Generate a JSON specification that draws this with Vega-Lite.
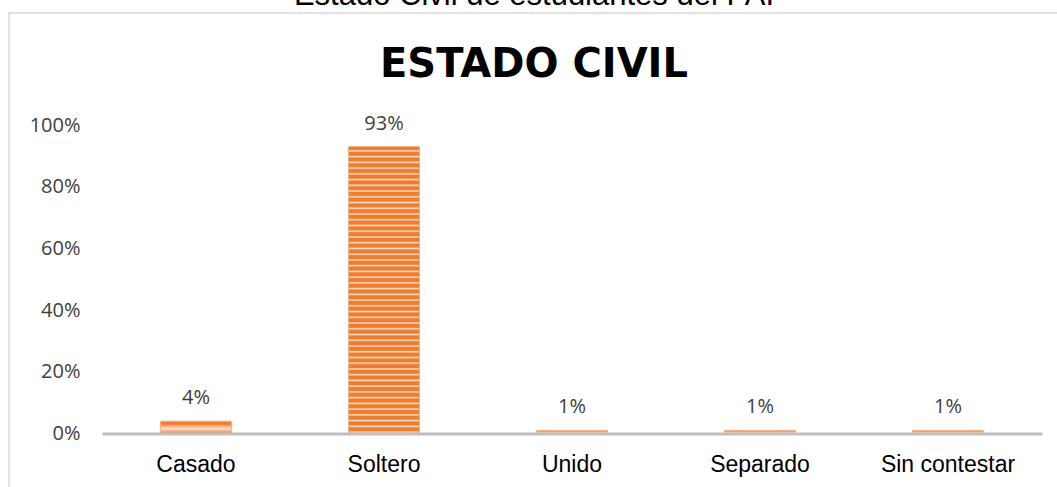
{
  "$schema": "https://vega.github.io/schema/vega-lite/v6.json",
  "width": 1050,
  "height": 477,
  "autosize": {"type": "none"},
  "padding": {"left": 9, "top": 13, "right": 0, "bottom": 0},
  "background": "white",
  "config": {"view": {"stroke": "#D9D9D9", "strokeWidth": 1.5}},
  "title": {
    "text": "Estado Civil de estudiantes del PAI",
    "subtitle": "ESTADO CIVIL",
    "anchor": "middle",
    "frame": "group",
    "font": "Liberation Sans",
    "fontSize": 31,
    "fontWeight": "normal",
    "color": "#000000",
    "subtitleFont": "DejaVu Sans",
    "subtitleFontSize": 40,
    "subtitleFontWeight": "bold",
    "subtitleColor": "#000000",
    "subtitlePadding": 33,
    "offset": -73
  },
  "data": {
    "values": [
      {"estado": "Casado", "pct": 0.04},
      {"estado": "Soltero", "pct": 0.93},
      {"estado": "Unido", "pct": 0.01},
      {"estado": "Separado", "pct": 0.01},
      {"estado": "Sin contestar", "pct": 0.01}
    ]
  },
  "encoding": {
    "x": {
      "field": "estado",
      "type": "nominal",
      "sort": null,
      "scale": {"range": [93, 1033], "paddingInner": 0.622, "paddingOuter": 0.311},
      "axis": {
        "title": null,
        "orient": "bottom",
        "offset": -56.5,
        "domain": true,
        "domainColor": "#BFBFBF",
        "domainWidth": 3,
        "ticks": false,
        "tickSize": 0,
        "labelPadding": 37.5,
        "labelBaseline": "alphabetic",
        "labelAngle": 0,
        "labelFont": "Liberation Sans",
        "labelFontSize": 23,
        "labelColor": "#000000",
        "zindex": 1
      }
    },
    "y": {
      "field": "pct",
      "type": "quantitative",
      "scale": {"domain": [0, 1], "range": [420.5, 112], "nice": false},
      "axis": {
        "title": null,
        "orient": "left",
        "offset": -75,
        "domain": false,
        "ticks": false,
        "tickSize": 0,
        "grid": false,
        "labelPadding": 4,
        "values": [0, 0.2, 0.4, 0.6, 0.8, 1],
        "format": ".0%",
        "labelFont": "Open Sans",
        "labelFontSize": 20,
        "labelColor": "#404040"
      }
    }
  },
  "layer": [
    {
      "mark": {
        "type": "bar",
        "stroke": "#F4B183",
        "strokeWidth": 1,
        "color": {
          "gradient": "linear",
          "x1": 0, "y1": 0, "x2": 0, "y2": 1,
          "stops": [
            {"offset": 0, "color": "#ED7D31"}, {"offset": 0.01, "color": "#ED7D31"}, {"offset": 0.015, "color": "#FBE0CC"},
            {"offset": 0.02, "color": "#ED7D31"}, {"offset": 0.03, "color": "#ED7D31"}, {"offset": 0.035, "color": "#FBE0CC"},
            {"offset": 0.04, "color": "#ED7D31"}, {"offset": 0.05, "color": "#ED7D31"}, {"offset": 0.055, "color": "#FBE0CC"},
            {"offset": 0.06, "color": "#ED7D31"}, {"offset": 0.07, "color": "#ED7D31"}, {"offset": 0.075, "color": "#FBE0CC"},
            {"offset": 0.08, "color": "#ED7D31"}, {"offset": 0.09, "color": "#ED7D31"}, {"offset": 0.095, "color": "#FBE0CC"},
            {"offset": 0.10, "color": "#ED7D31"}, {"offset": 0.11, "color": "#ED7D31"}, {"offset": 0.115, "color": "#FBE0CC"},
            {"offset": 0.12, "color": "#ED7D31"}, {"offset": 0.13, "color": "#ED7D31"}, {"offset": 0.135, "color": "#FBE0CC"},
            {"offset": 0.14, "color": "#ED7D31"}, {"offset": 0.15, "color": "#ED7D31"}, {"offset": 0.155, "color": "#FBE0CC"},
            {"offset": 0.16, "color": "#ED7D31"}, {"offset": 0.17, "color": "#ED7D31"}, {"offset": 0.175, "color": "#FBE0CC"},
            {"offset": 0.18, "color": "#ED7D31"}, {"offset": 0.19, "color": "#ED7D31"}, {"offset": 0.195, "color": "#FBE0CC"},
            {"offset": 0.20, "color": "#ED7D31"}, {"offset": 0.21, "color": "#ED7D31"}, {"offset": 0.215, "color": "#FBE0CC"},
            {"offset": 0.22, "color": "#ED7D31"}, {"offset": 0.23, "color": "#ED7D31"}, {"offset": 0.235, "color": "#FBE0CC"},
            {"offset": 0.24, "color": "#ED7D31"}, {"offset": 0.25, "color": "#ED7D31"}, {"offset": 0.255, "color": "#FBE0CC"},
            {"offset": 0.26, "color": "#ED7D31"}, {"offset": 0.27, "color": "#ED7D31"}, {"offset": 0.275, "color": "#FBE0CC"},
            {"offset": 0.28, "color": "#ED7D31"}, {"offset": 0.29, "color": "#ED7D31"}, {"offset": 0.295, "color": "#FBE0CC"},
            {"offset": 0.30, "color": "#ED7D31"}, {"offset": 0.31, "color": "#ED7D31"}, {"offset": 0.315, "color": "#FBE0CC"},
            {"offset": 0.32, "color": "#ED7D31"}, {"offset": 0.33, "color": "#ED7D31"}, {"offset": 0.335, "color": "#FBE0CC"},
            {"offset": 0.34, "color": "#ED7D31"}, {"offset": 0.35, "color": "#ED7D31"}, {"offset": 0.355, "color": "#FBE0CC"},
            {"offset": 0.36, "color": "#ED7D31"}, {"offset": 0.37, "color": "#ED7D31"}, {"offset": 0.375, "color": "#FBE0CC"},
            {"offset": 0.38, "color": "#ED7D31"}, {"offset": 0.39, "color": "#ED7D31"}, {"offset": 0.395, "color": "#FBE0CC"},
            {"offset": 0.40, "color": "#ED7D31"}, {"offset": 0.41, "color": "#ED7D31"}, {"offset": 0.415, "color": "#FBE0CC"},
            {"offset": 0.42, "color": "#ED7D31"}, {"offset": 0.43, "color": "#ED7D31"}, {"offset": 0.435, "color": "#FBE0CC"},
            {"offset": 0.44, "color": "#ED7D31"}, {"offset": 0.45, "color": "#ED7D31"}, {"offset": 0.455, "color": "#FBE0CC"},
            {"offset": 0.46, "color": "#ED7D31"}, {"offset": 0.47, "color": "#ED7D31"}, {"offset": 0.475, "color": "#FBE0CC"},
            {"offset": 0.48, "color": "#ED7D31"}, {"offset": 0.49, "color": "#ED7D31"}, {"offset": 0.495, "color": "#FBE0CC"},
            {"offset": 0.50, "color": "#ED7D31"}, {"offset": 0.51, "color": "#ED7D31"}, {"offset": 0.515, "color": "#FBE0CC"},
            {"offset": 0.52, "color": "#ED7D31"}, {"offset": 0.53, "color": "#ED7D31"}, {"offset": 0.535, "color": "#FBE0CC"},
            {"offset": 0.54, "color": "#ED7D31"}, {"offset": 0.55, "color": "#ED7D31"}, {"offset": 0.555, "color": "#FBE0CC"},
            {"offset": 0.56, "color": "#ED7D31"}, {"offset": 0.57, "color": "#ED7D31"}, {"offset": 0.575, "color": "#FBE0CC"},
            {"offset": 0.58, "color": "#ED7D31"}, {"offset": 0.59, "color": "#ED7D31"}, {"offset": 0.595, "color": "#FBE0CC"},
            {"offset": 0.60, "color": "#ED7D31"}, {"offset": 0.61, "color": "#ED7D31"}, {"offset": 0.615, "color": "#FBE0CC"},
            {"offset": 0.62, "color": "#ED7D31"}, {"offset": 0.63, "color": "#ED7D31"}, {"offset": 0.635, "color": "#FBE0CC"},
            {"offset": 0.64, "color": "#ED7D31"}, {"offset": 0.65, "color": "#ED7D31"}, {"offset": 0.655, "color": "#FBE0CC"},
            {"offset": 0.66, "color": "#ED7D31"}, {"offset": 0.67, "color": "#ED7D31"}, {"offset": 0.675, "color": "#FBE0CC"},
            {"offset": 0.68, "color": "#ED7D31"}, {"offset": 0.69, "color": "#ED7D31"}, {"offset": 0.695, "color": "#FBE0CC"},
            {"offset": 0.70, "color": "#ED7D31"}, {"offset": 0.71, "color": "#ED7D31"}, {"offset": 0.715, "color": "#FBE0CC"},
            {"offset": 0.72, "color": "#ED7D31"}, {"offset": 0.73, "color": "#ED7D31"}, {"offset": 0.735, "color": "#FBE0CC"},
            {"offset": 0.74, "color": "#ED7D31"}, {"offset": 0.75, "color": "#ED7D31"}, {"offset": 0.755, "color": "#FBE0CC"},
            {"offset": 0.76, "color": "#ED7D31"}, {"offset": 0.77, "color": "#ED7D31"}, {"offset": 0.775, "color": "#FBE0CC"},
            {"offset": 0.78, "color": "#ED7D31"}, {"offset": 0.79, "color": "#ED7D31"}, {"offset": 0.795, "color": "#FBE0CC"},
            {"offset": 0.80, "color": "#ED7D31"}, {"offset": 0.81, "color": "#ED7D31"}, {"offset": 0.815, "color": "#FBE0CC"},
            {"offset": 0.82, "color": "#ED7D31"}, {"offset": 0.83, "color": "#ED7D31"}, {"offset": 0.835, "color": "#FBE0CC"},
            {"offset": 0.84, "color": "#ED7D31"}, {"offset": 0.85, "color": "#ED7D31"}, {"offset": 0.855, "color": "#FBE0CC"},
            {"offset": 0.86, "color": "#ED7D31"}, {"offset": 0.87, "color": "#ED7D31"}, {"offset": 0.875, "color": "#FBE0CC"},
            {"offset": 0.88, "color": "#ED7D31"}, {"offset": 0.89, "color": "#ED7D31"}, {"offset": 0.895, "color": "#FBE0CC"},
            {"offset": 0.90, "color": "#ED7D31"}, {"offset": 0.91, "color": "#ED7D31"}, {"offset": 0.915, "color": "#FBE0CC"},
            {"offset": 0.92, "color": "#ED7D31"}, {"offset": 0.93, "color": "#ED7D31"}, {"offset": 0.935, "color": "#FBE0CC"},
            {"offset": 0.94, "color": "#ED7D31"}, {"offset": 0.95, "color": "#ED7D31"}, {"offset": 0.955, "color": "#FBE0CC"},
            {"offset": 0.96, "color": "#ED7D31"}, {"offset": 0.97, "color": "#ED7D31"}, {"offset": 0.975, "color": "#FBE0CC"},
            {"offset": 0.98, "color": "#ED7D31"}, {"offset": 0.99, "color": "#ED7D31"}, {"offset": 0.995, "color": "#FBE0CC"},
            {"offset": 1, "color": "#ED7D31"}
          ]
        }
      }
    },
    {
      "mark": {
        "type": "text",
        "baseline": "alphabetic",
        "dy": -17,
        "font": "Open Sans",
        "fontSize": 20,
        "color": "#404040"
      },
      "encoding": {
        "text": {"field": "pct", "type": "quantitative", "format": ".0%"}
      }
    }
  ]
}
